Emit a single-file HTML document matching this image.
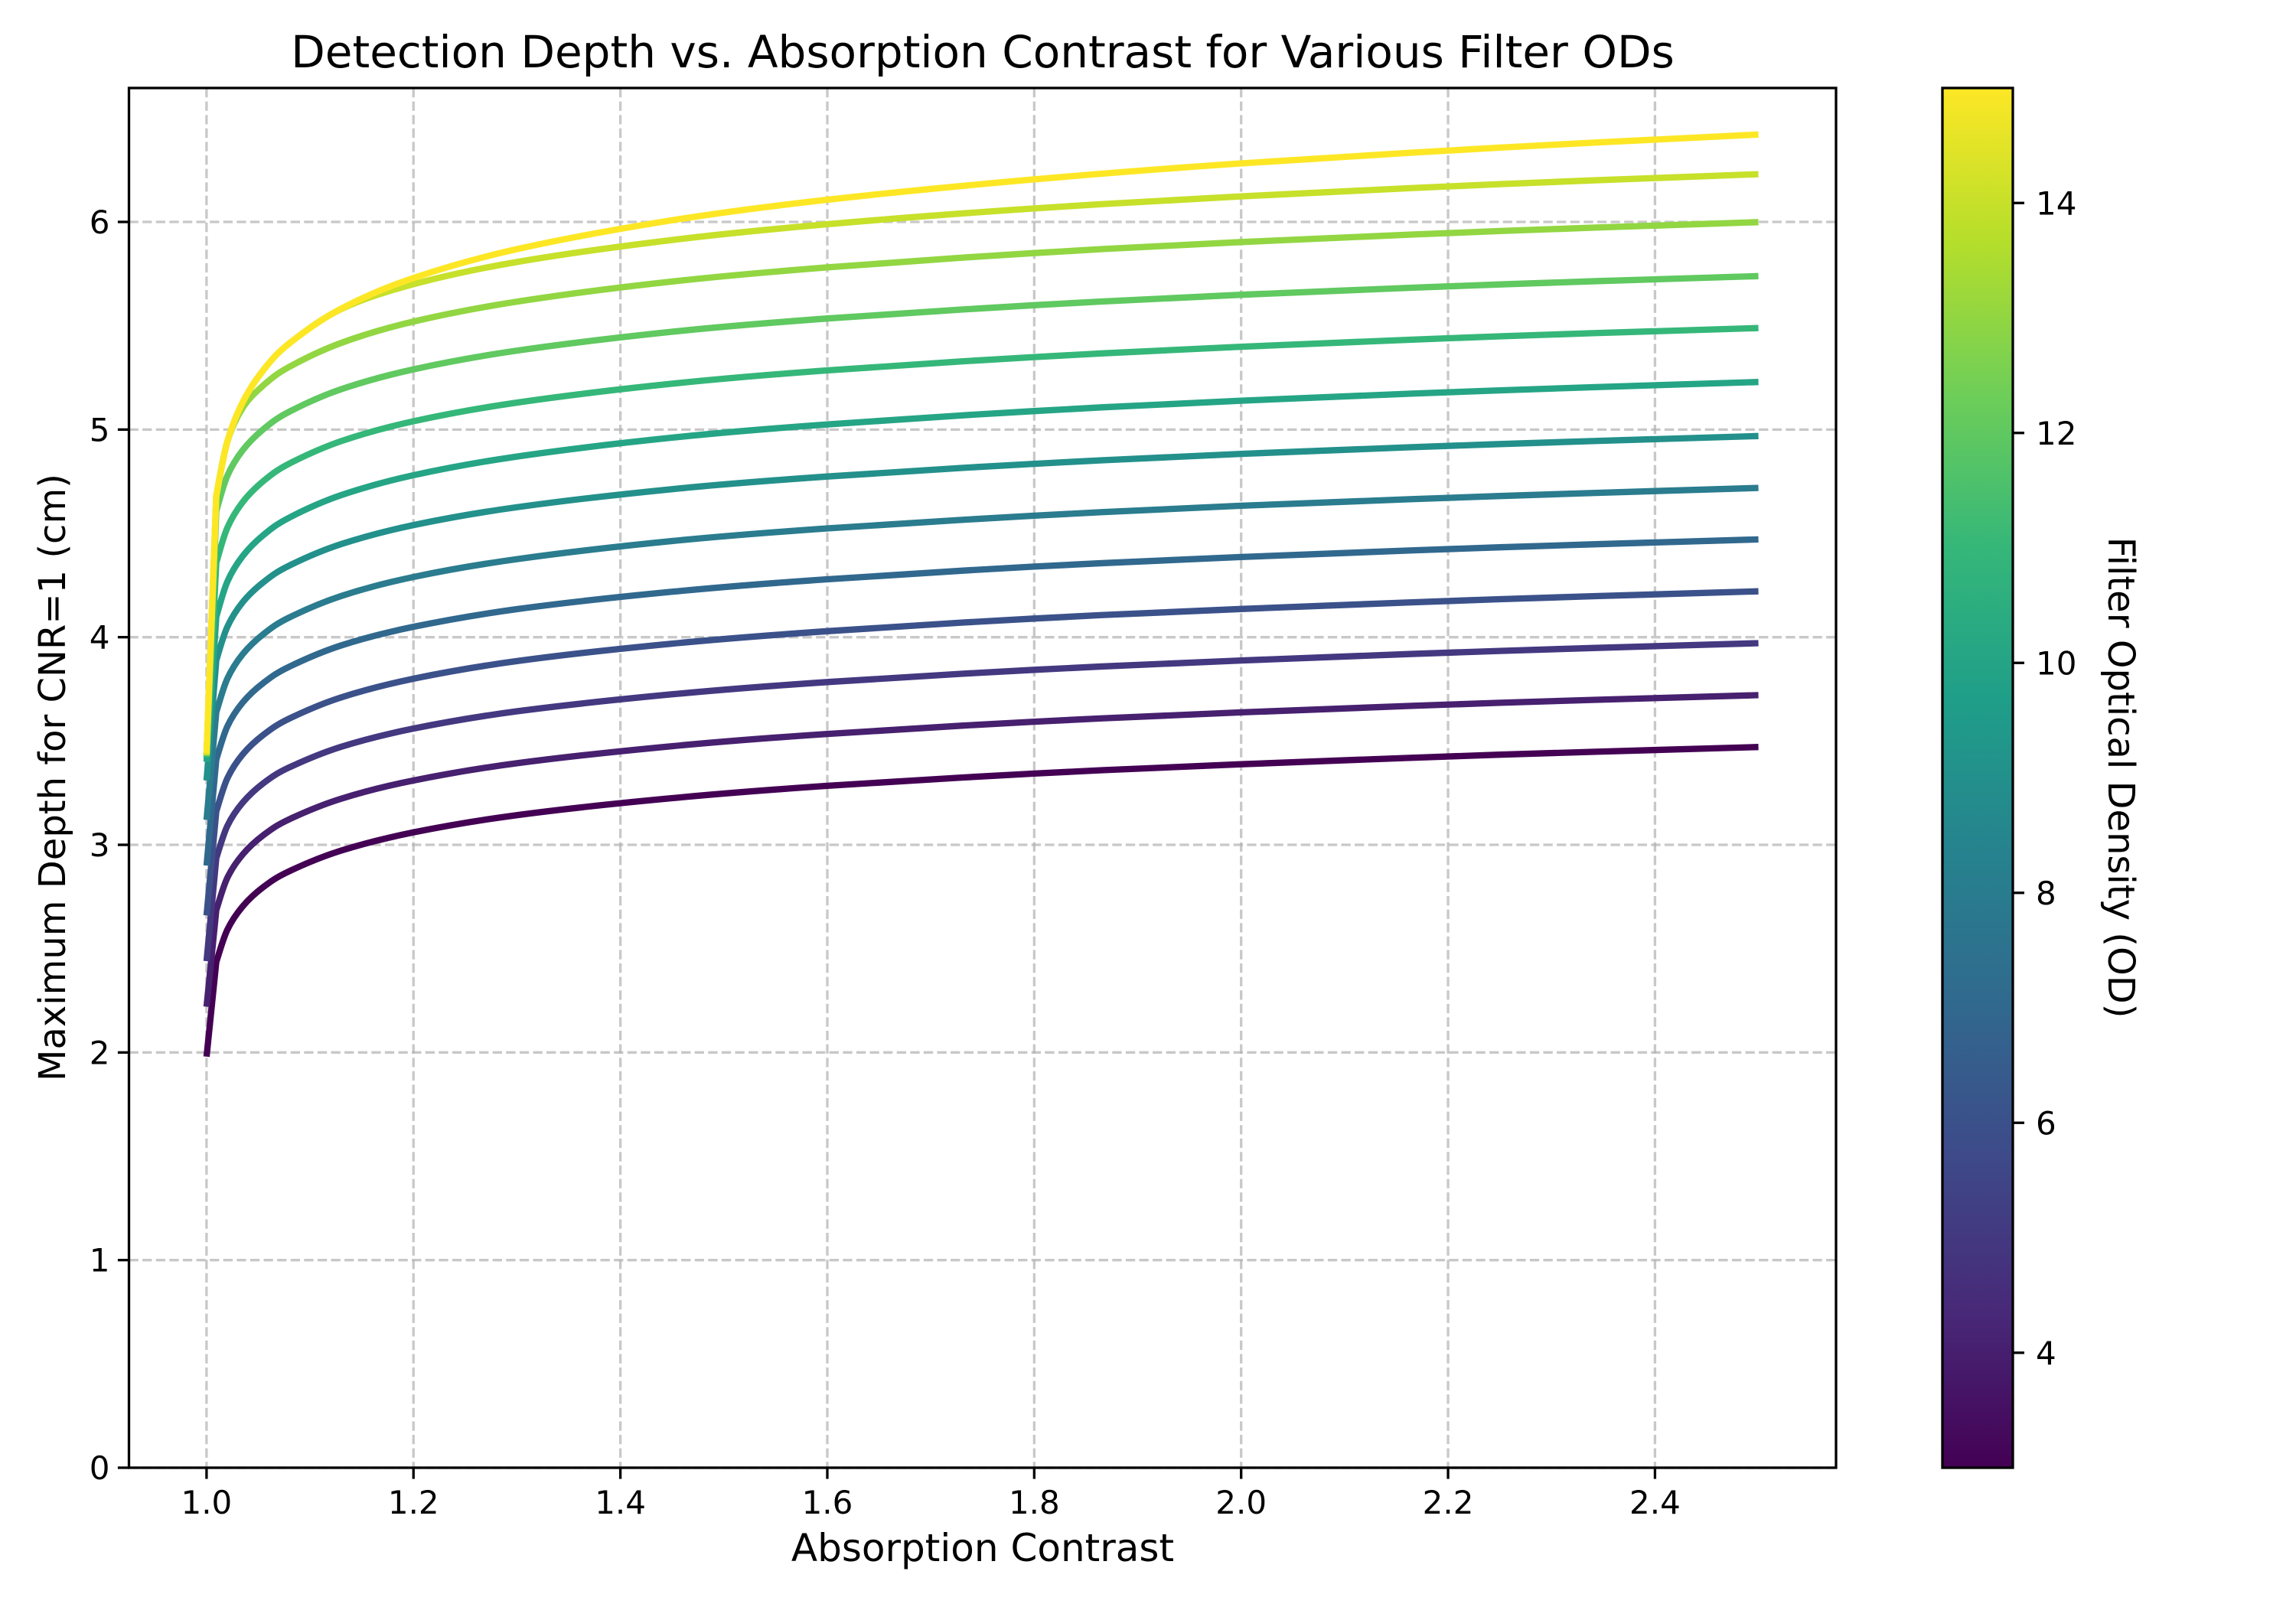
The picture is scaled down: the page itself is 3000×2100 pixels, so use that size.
<!DOCTYPE html>
<html><head><meta charset="utf-8"><style>
html,body{margin:0;padding:0;background:#fff;}
svg{display:block;font-family:"DejaVu Sans","Liberation Sans",sans-serif;}
</style></head><body>
<svg id="chart" width="3000" height="2100" viewBox="0 0 3000 2100" xmlns="http://www.w3.org/2000/svg">
<rect x="0" y="0" width="3000" height="2100" fill="#fff"/>
<g id="grid"></g>
<g id="series"></g>
<g id="axes"></g>
<text x="1284" y="88" font-size="58" text-anchor="middle">Detection Depth vs. Absorption Contrast for Various Filter ODs</text>
<text x="1284" y="2040" font-size="50" text-anchor="middle">Absorption Contrast</text>
<text transform="translate(85,1016) rotate(-90)" font-size="48" text-anchor="middle">Maximum Depth for CNR=1 (cm)</text>
<defs><linearGradient id="vir" x1="0" y1="1" x2="0" y2="0">
<stop offset="0" stop-color="#440154"/><stop offset="0.111" stop-color="#482878"/><stop offset="0.222" stop-color="#3e4989"/><stop offset="0.333" stop-color="#31688e"/><stop offset="0.444" stop-color="#26828e"/><stop offset="0.556" stop-color="#1f9e89"/><stop offset="0.667" stop-color="#35b779"/><stop offset="0.778" stop-color="#6ece58"/><stop offset="0.889" stop-color="#b5de2b"/><stop offset="1" stop-color="#fde725"/>
</linearGradient></defs>
<g id="cbar">
<rect x="2538" y="115" width="92" height="1803" fill="url(#vir)" stroke="#000" stroke-width="3.3"/>
</g>
<text transform="translate(2755,1016) rotate(90)" font-size="48" text-anchor="middle">Filter Optical Density (OD)</text>
</svg>
<script>
const xGrid = [1.0, 1.0094, 1.02, 1.035, 1.055, 1.08, 1.13, 1.2, 1.3, 1.45, 1.6, 1.8, 2.0, 2.25, 2.5];
const odValues = [3,4,5,6,7,8,9,10,11,12,13,14,15];
const s3  = [1.98,2.436,2.590,2.704,2.797,2.873,2.972,3.06,3.143,3.225,3.284,3.343,3.388,3.434,3.471];
const s4  = [2.22,2.686,2.840,2.954,3.047,3.123,3.222,3.31,3.393,3.475,3.534,3.593,3.638,3.684,3.721];
const s5  = [2.44,2.936,3.090,3.204,3.297,3.373,3.472,3.56,3.643,3.725,3.784,3.843,3.888,3.934,3.971];
const s6  = [2.66,3.161,3.319,3.436,3.530,3.608,3.710,3.80,3.885,3.969,4.029,4.090,4.136,4.183,4.221];
const s7  = [2.90,3.411,3.569,3.686,3.780,3.858,3.960,4.05,4.135,4.219,4.279,4.340,4.386,4.433,4.471];
const s8  = [3.12,3.639,3.799,3.919,4.015,4.095,4.198,4.29,4.376,4.463,4.524,4.585,4.633,4.680,4.719];
const s9  = [3.31,3.889,4.049,4.169,4.265,4.345,4.448,4.54,4.626,4.713,4.774,4.835,4.883,4.930,4.969];
const s10 = [3.40,4.098,4.266,4.391,4.492,4.576,4.684,4.78,4.870,4.961,5.025,5.089,5.139,5.189,5.229];
const s11 = [3.42,4.358,4.526,4.651,4.752,4.836,4.944,5.04,5.130,5.221,5.285,5.349,5.399,5.449,5.489];
const s12 = [3.43,4.608,4.776,4.901,5.002,5.086,5.194,5.29,5.380,5.471,5.535,5.599,5.649,5.699,5.739];
const s13 = [3.43,4.681,4.940,5.105,5.213,5.302,5.417,5.52,5.616,5.713,5.781,5.850,5.903,5.956,5.999];
const s14 = [3.43,4.681,4.940,5.132,5.287,5.415,5.580,5.70,5.807,5.913,5.989,6.065,6.123,6.182,6.230];
const s15 = [3.44,4.681,4.940,5.132,5.287,5.415,5.582,5.73,5.869,6.008,6.107,6.205,6.282,6.358,6.421];
const seriesList = [s3,s4,s5,s6,s7,s8,s9,s10,s11,s12,s13,s14,s15];
const colors = ["#440154","#47206f","#443880","#3b518a","#31688e","#2a7c8e","#23908b","#25a585","#35b779","#60c960","#92d642","#c7e02a","#fde725"];
const xTicks = [1.0,1.2,1.4,1.6,1.8,2.0,2.2,2.4];
const xTickLabels = ["1.0","1.2","1.4","1.6","1.8","2.0","2.2","2.4"];
const yTicks = [0,1,2,3,4,5,6];
const cbTicks = [4,6,8,10,12,14];

const L=168.5,R=2399,T=115,B=1918;
const X0=0.925,X1=2.575,Y0=0,Y1=6.645;
const xs=v=>L+(v-X0)/(X1-X0)*(R-L);
const ys=v=>B-(v-Y0)/(Y1-Y0)*(B-T);
const cs=v=>1918-(v-3)/12*1803;
const NS="http://www.w3.org/2000/svg";
function mk(tag,attrs,parent){const e=document.createElementNS(NS,tag);for(const k in attrs)e.setAttribute(k,attrs[k]);parent.appendChild(e);return e;}
const grid=document.getElementById('grid'),ser=document.getElementById('series'),axes=document.getElementById('axes'),cbar=document.getElementById('cbar');
const gs={stroke:"#b0b0b0","stroke-opacity":"0.7","stroke-width":"3.3","stroke-dasharray":"12.3 5.3"};
xTicks.forEach((v,i)=>{
  const x=xs(v);
  const g=mk('line',Object.assign({x1:x,x2:x,y1:T,y2:B},gs),grid);
  
  
  const t=mk('line',{x1:x,x2:x,y1:B,y2:B+14.6,stroke:"#000","stroke-width":"3.3"},axes);
  
  
  const lb=mk('text',{x:x,y:B+60,"font-size":"42","text-anchor":"middle"},axes);
  lb.textContent=xTickLabels[i];
  
  
});
yTicks.forEach(v=>{
  const y=ys(v);
  const g=mk('line',Object.assign({x1:L,x2:R,y1:y,y2:y},gs),grid);
  
  
  const t=mk('line',{x1:L-14.6,x2:L,y1:y,y2:y,stroke:"#000","stroke-width":"3.3"},axes);
  
  
  const lb=mk('text',{x:L-25,y:y+15,"font-size":"42","text-anchor":"end"},axes);
  lb.textContent=String(v);
  
  
});
function smoothPath(pts){
  const n=pts.length;
  let d='M'+pts[0][0].toFixed(1)+','+pts[0][1].toFixed(1)+' L'+pts[1][0].toFixed(1)+','+pts[1][1].toFixed(1);
  for(let i=1;i!==n-1;i++){
    const p0=pts[Math.max(1,i-1)],p1=pts[i],p2=pts[i+1],p3=pts[Math.min(n-1,i+2)];
    const c1x=p1[0]+(p2[0]-p0[0])/6,c1y=p1[1]+(p2[1]-p0[1])/6;
    const c2x=p2[0]-(p3[0]-p1[0])/6,c2y=p2[1]-(p3[1]-p1[1])/6;
    d+=' C'+c1x.toFixed(1)+','+c1y.toFixed(1)+' '+c2x.toFixed(1)+','+c2y.toFixed(1)+' '+p2[0].toFixed(1)+','+p2[1].toFixed(1);
  }
  return d;
}
seriesList.forEach((s,i)=>{
  const pts=s.map((v,j)=>[xs(xGrid[j]),ys(v)]);
  const p=mk('path',{d:smoothPath(pts),fill:"none",stroke:colors[i],"stroke-width":"8.3","stroke-linejoin":"round"},ser);
  
  
});
const fr=mk('rect',{x:L,y:T,width:R-L,height:B-T,fill:"none",stroke:"#000","stroke-width":"3.3"},axes);


cbTicks.forEach(v=>{
  const y=cs(v);
  const t=mk('line',{x1:2630,x2:2645,y1:y,y2:y,stroke:"#000","stroke-width":"3.3"},cbar);
  
  
  const lb=mk('text',{x:2660,y:y+15,"font-size":"42"},cbar);
  lb.textContent=String(v);
  
  
});
</script>
</body></html>
